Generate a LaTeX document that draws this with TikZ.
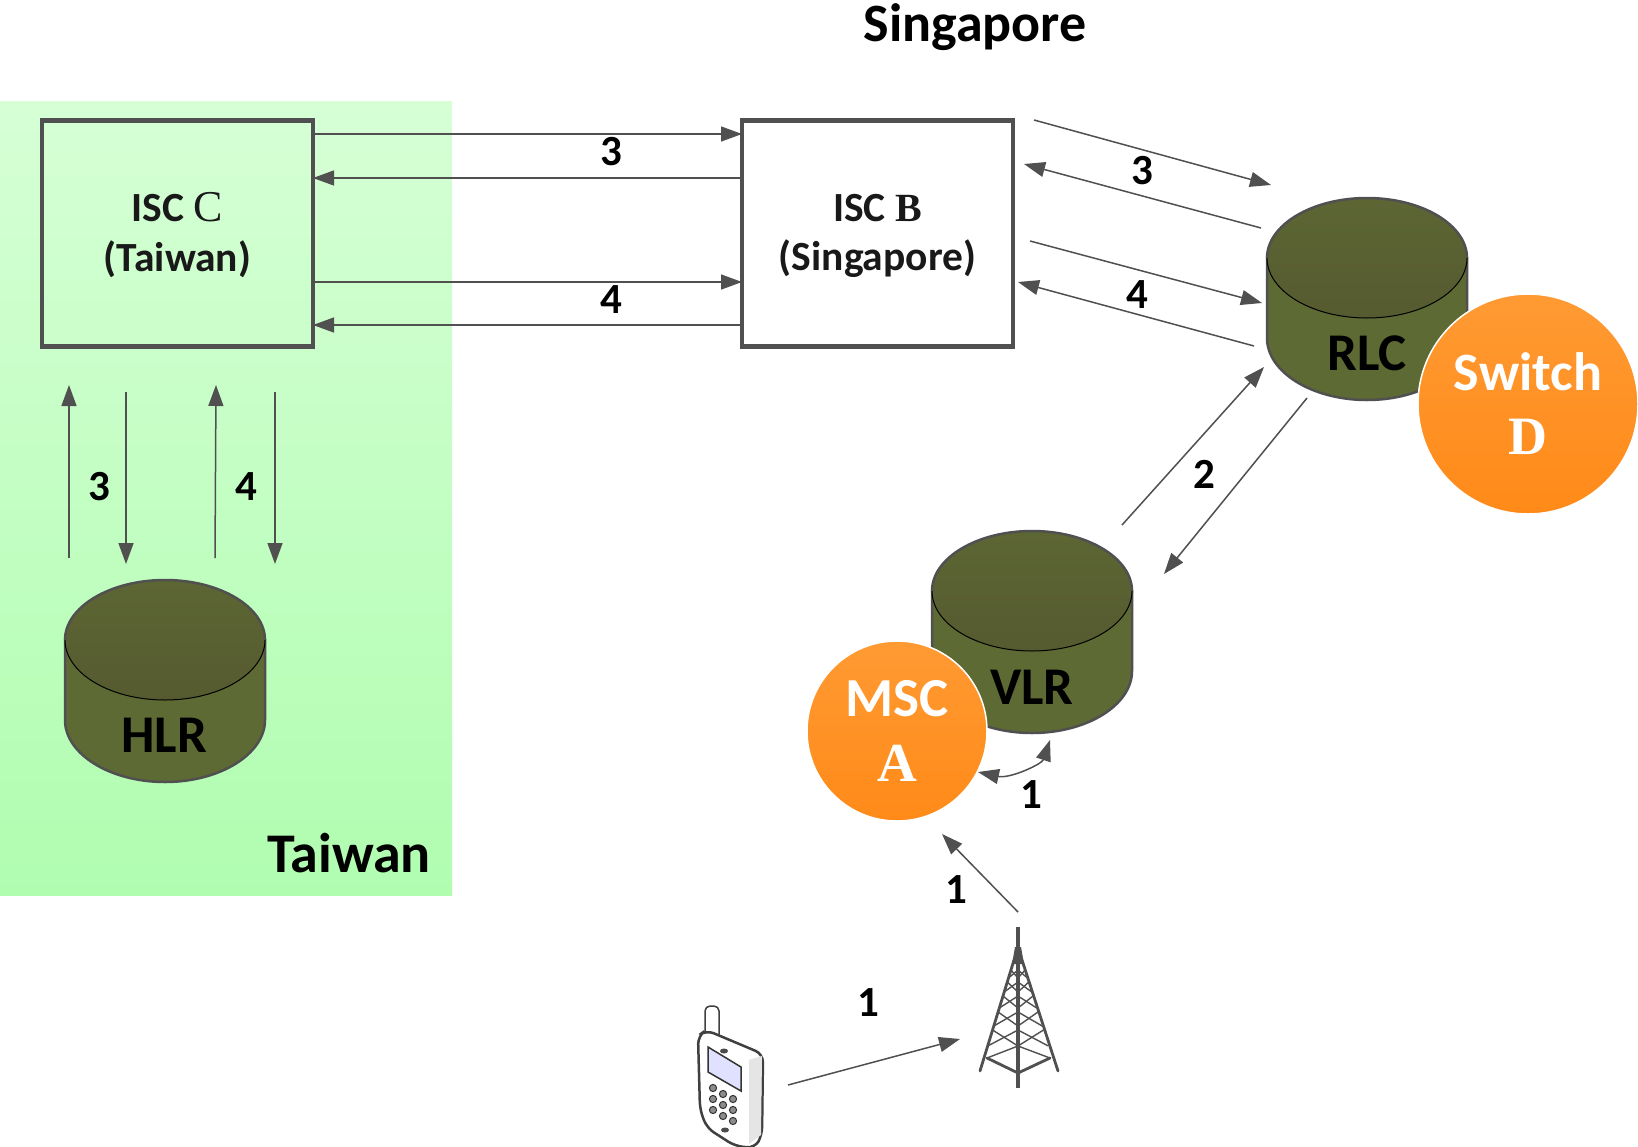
\documentclass[tikz,border=0pt]{standalone}
\usepackage{fontspec}
\setmainfont{Carlito}
\newfontfamily\serifx{Liberation Serif}
\usetikzlibrary{arrows.meta}
\definecolor{linegrey}{HTML}{505050}
\definecolor{drumtop}{HTML}{5C6633}
\definecolor{drumlow}{HTML}{565A30}
\definecolor{drumside}{HTML}{5E6A33}
\definecolor{orangetop}{HTML}{FF9A33}
\definecolor{orangelow}{HTML}{FF8A18}
\definecolor{greentop}{HTML}{D6FFD6}
\definecolor{greenlow}{HTML}{B0FDB0}
\newcommand{\fsz}[1]{\fontsize{#1}{#1}\selectfont}
\newcommand{\drum}[2]{% centre x, centre y of the top ellipse
  \path[draw=linegrey,line width=2.5pt,fill=drumside]
    (#1-100,#2) -- (#1-100,#2+80)
    .. controls (#1-100,#2+114) and (#1-55,#2+142) .. (#1,#2+142)
    .. controls (#1+55,#2+142) and (#1+100,#2+114) .. (#1+100,#2+80)
    -- (#1+100,#2) -- cycle;
  \path[top color=drumtop,bottom color=drumlow] (#1,#2) ellipse[x radius=100,y radius=60];
  \draw[black,line width=1pt] (#1-100,#2) .. controls (#1-100,#2+33) and (#1-55,#2+60) .. (#1,#2+60)
     .. controls (#1+55,#2+60) and (#1+100,#2+33) .. (#1+100,#2);
  \draw[linegrey,line width=2.5pt] (#1-100,#2) .. controls (#1-100,#2-33) and (#1-55,#2-60) .. (#1,#2-60)
     .. controls (#1+55,#2-60) and (#1+100,#2-33) .. (#1+100,#2);
}
\tikzset{
  x=1pt,y=-1pt,
  flow/.style={draw=linegrey,line width=1.5pt,-{Triangle[length=21pt,width=15pt]}},
  iscbox/.style={draw=linegrey,line width=4.5pt,minimum width=271pt,minimum height=226pt,inner sep=0pt,align=center,font=\fsz{41.5}\bfseries,text=black!90},
  num/.style={font=\fsz{43}\bfseries,text=black,inner sep=0pt},
  drumlabel/.style={font=\fsz{53}\bfseries,text=black,inner sep=0pt},
  place/.style={font=\fsz{56}\bfseries,text=black,inner sep=0pt},
  switchdisc/.style={circle,draw=white,line width=1.5pt,top color=orangetop,bottom color=orangelow,text=white,inner sep=0pt,align=center},
  towerline/.style={draw=linegrey,line width=1.4pt},
  towerbar/.style={draw=linegrey,line width=2.8pt,line cap=round},
}
\begin{document}
\begin{tikzpicture}
\useasboundingbox (0,0) rectangle (1638,1146);
\fill[white] (0,0) rectangle (1638,1146);

% regions
\node[minimum width=452pt,minimum height=794pt,inner sep=0pt,top color=greentop,bottom color=greenlow] (taiwanarea) at (226,498) {};
\node[place] (taiwan) at (349,853) {Taiwan};
\node[place,font=\fsz{54}\bfseries] (singapore) at (975,27) {Singapore};

% switches and registers
\node[iscbox] (iscc) at (177.5,233.5) {\rule{0pt}{32pt}ISC {\serifx\mdseries\fsz{44}C}\\[8pt](Taiwan)};
\node[iscbox,fill=white] (iscb) at (877.5,233.5) {\rule{0pt}{32pt}ISC {\serifx\fsz{40}B}\\[8pt](Singapore)};

\drum{165}{640}
\node[drumlabel] (hlr) at (164,735) {HLR};
\drum{1367}{258}
\node[drumlabel] (rlc) at (1367,353) {RLC};
\drum{1032}{591}
\node[drumlabel] (vlr) at (1032,687) {VLR};

\node[switchdisc,minimum size=220pt,font=\fsz{54}\bfseries] (switchd) at (1528,404) {Switch\\[10pt]{\serifx D}};
\node[switchdisc,minimum size=180pt,font=\fsz{55}\bfseries] (msca) at (897,731) {MSC\\[10pt]{\serifx A}};

% free connector ends
\coordinate (cbaS) at (313,134);  \coordinate (cbaE) at (742,134);
\coordinate (cbbS) at (742,178);  \coordinate (cbbE) at (313,178);
\coordinate (cbcS) at (313,282);  \coordinate (cbcE) at (742,282);
\coordinate (cbdS) at (742,325);  \coordinate (cbdE) at (313,325);
\coordinate (braS) at (1034,120); \coordinate (braE) at (1271,185);
\coordinate (brbS) at (1261,228); \coordinate (brbE) at (1024,164);
\coordinate (brcS) at (1030,241); \coordinate (brcE) at (1262,303);
\coordinate (brdS) at (1254,346); \coordinate (brdE) at (1018,282);
\coordinate (chaS) at (69,558);   \coordinate (chaE) at (69,385);
\coordinate (chbS) at (126,392);  \coordinate (chbE) at (126,564);
\coordinate (chcS) at (215,558);  \coordinate (chcE) at (216,385);
\coordinate (chdS) at (275,392);  \coordinate (chdE) at (275,564);
\coordinate (rvaS) at (1122,525); \coordinate (rvaE) at (1264,367);
\coordinate (rvbS) at (1307,398); \coordinate (rvbE) at (1164,574);
\coordinate (mvS) at (978,772);   \coordinate (mvE) at (1050,740);
\coordinate (tmS) at (1018,912);  \coordinate (tmE) at (942,834);
\coordinate (ptS) at (788,1085);  \coordinate (ptE) at (960,1039);

% connectors
\foreach \a/\b in {cbaS/cbaE,cbbS/cbbE,cbcS/cbcE,cbdS/cbdE,braS/braE,brbS/brbE,brcS/brcE,brdS/brdE,chaS/chaE,chbS/chbE,chcS/chcE,chdS/chdE,rvaS/rvaE,rvbS/rvbE,tmS/tmE,ptS/ptE}
  \draw[flow] (\a) -- (\b);
\draw[draw=linegrey,line width=1.5pt,{Triangle[length=21pt,width=15pt]}-{Triangle[length=21pt,width=15pt]}]
  (mvE) .. controls (1042,764) and (1010,779) .. (mvS);

% numbers
\node[num] (na) at (611,152) {3};
\node[num] (nb) at (611,300) {4};
\node[num] (nc) at (1142,171) {3};
\node[num] (nd) at (1137,295) {4};
\node[num] (ne) at (99,487) {3};
\node[num] (nf) at (246,487) {4};
\node[num] (ng) at (1204,474) {2};
\node[num] (nh) at (1031,795) {1};
\node[num] (ni) at (956,890) {1};
\node[num] (nj) at (868,1003) {1};

% tower
\draw[towerline,line width=3.5pt] (1018,927) -- (1018,1088);
\fill[linegrey] (1012,964) -- (1015,947) -- (1021,947) -- (1024,964) -- cycle;
\draw[towerbar] (1014,960) -- (980,1071) (1022,960) -- (1058,1071);
\foreach \ya/\yb in {970/978,982/992,996/1008,1012/1026,1030/1046}{
  \pgfmathsetmacro{\wa}{4+34*(\ya-960)/111}
  \pgfmathsetmacro{\wb}{4+34*(\yb-960)/111}
  \draw[towerline] (1018-\wa,\ya) -- (1018,\yb) -- (1018+\wa,\ya);
  \draw[towerline] (1018-\wb,\yb) -- (1018,\ya) -- (1018+\wb,\yb);
}
\draw[towerbar] (987,1058) -- (1018,1073) -- (1050,1058);
\draw[towerline] (987,1058) -- (1018,1046) -- (1050,1058);

% phone
\draw[black!75,line width=1.5pt,fill=white,rounded corners=5pt] (705,1040) -- (705,1006) -- (719,1006) -- (719,1040);
\draw[black!75,line width=2.5pt,fill=white,rounded corners=8pt]
  (698,1036) -- (706,1030) -- (763,1054) -- (762,1135) -- (755,1148) -- (735,1146) -- (707,1128) -- (700,1110) -- cycle;
\fill[black!10] (749,1060) -- (762,1056) -- (761,1135) -- (749,1144) -- cycle;
\draw[black!80,line width=1.5pt,fill=blue!12] (708,1047) -- (741,1067) -- (741,1091) -- (708,1072) -- cycle;
\fill[black!70] (724,1051) ellipse[x radius=4,y radius=2.5];
\fill[black!70] (725,1130) ellipse[x radius=4,y radius=2.5];
\foreach \px/\py in {713/1088,723/1094,733/1099,713/1099,723/1105,733/1110,713/1110,723/1116,733/1121}
  \draw[black!80,line width=1pt,fill=black!45] (\px,\py) circle[radius=3.6];
\end{tikzpicture}
\end{document}
